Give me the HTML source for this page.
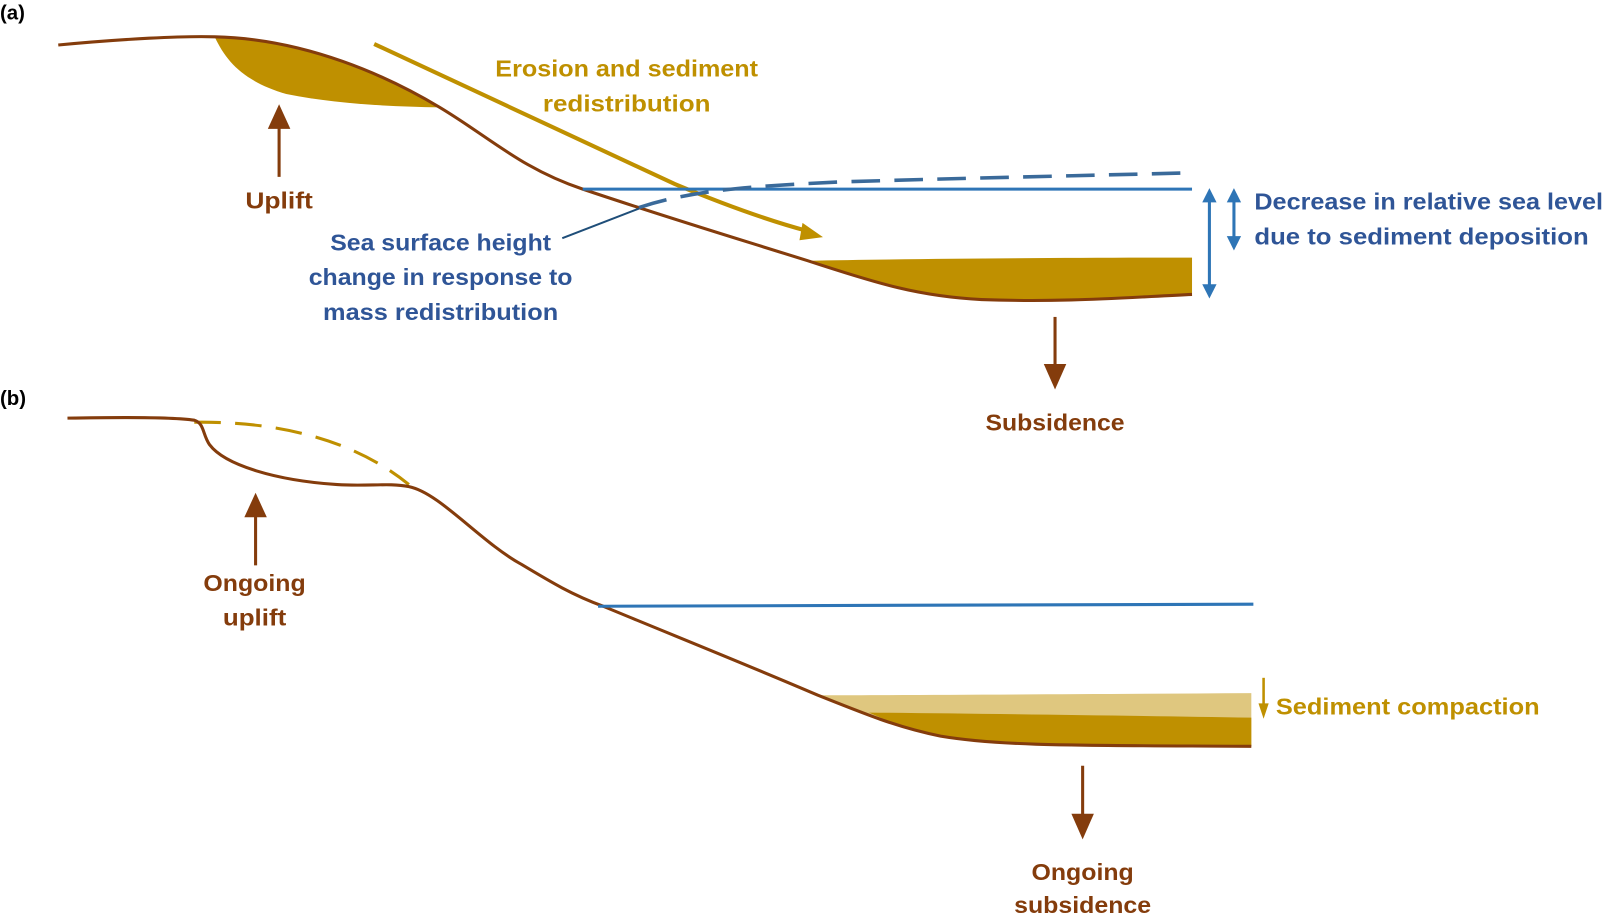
<!DOCTYPE html>
<html><head><style>html,body{margin:0;padding:0;background:#fff}svg{display:block}</style></head>
<body>
<svg width="1603" height="915" viewBox="0 0 1568 895" preserveAspectRatio="none" xmlns="http://www.w3.org/2000/svg" font-family="Liberation Sans, sans-serif" font-weight="bold">
<!-- (a) -->
<text x="0" y="19" font-size="20" fill="#000">(a)</text>
<path d="M210,36 C222,62 240,80 280,92 C330,102 380,104 430,105 C380,75 300,38 210,36 Z" fill="#BF9000"/>
<path d="M790,255 C860,278 900,290 960,293 C1040,296 1100,291 1166,288 L1166,252 C1050,252 900,253 790,255 Z" fill="#BF9000"/>
<path d="M57,44 C120,38 180,35 210,36 C300,38 380,75 430,105 C480,135 510,165 570,185 C650,212 720,233 790,255 C860,278 900,290 960,293 C1040,296 1100,291 1166,288" fill="none" stroke="#843C0C" stroke-width="3"/>
<path d="M366,43 L660,180 C720,205 760,218 790,226" fill="none" stroke="#BF9000" stroke-width="4"/>
<polygon points="805,232 785,218 782,235" fill="#BF9000"/>
<line x1="570" y1="185" x2="1166" y2="185" stroke="#2E75B6" stroke-width="3"/>
<path d="M625,203 C680,185 740,182 820,178 C950,174 1050,172 1166,169" fill="none" stroke="#3A6A9A" stroke-width="3.5" stroke-dasharray="28,14"/>
<line x1="550" y1="233" x2="625" y2="204" stroke="#1F4E79" stroke-width="2"/>
<line x1="1183" y1="195" x2="1183" y2="281" stroke="#2E75B6" stroke-width="3"/>
<polygon points="1183,184 1176,198 1190,198" fill="#2E75B6"/><polygon points="1183,292 1176,278 1190,278" fill="#2E75B6"/>
<line x1="1207" y1="195" x2="1207" y2="234" stroke="#2E75B6" stroke-width="3"/>
<polygon points="1207,184 1200,198 1214,198" fill="#2E75B6"/><polygon points="1207,245 1200,231 1214,231" fill="#2E75B6"/>
<line x1="273" y1="120" x2="273" y2="173" stroke="#843C0C" stroke-width="3"/>
<polygon points="273,102 262,126 284,126" fill="#843C0C"/>
<line x1="1032" y1="310" x2="1032" y2="360" stroke="#843C0C" stroke-width="3"/>
<polygon points="1032,381 1021,356 1043,356" fill="#843C0C"/>
<g font-size="23">
<text x="613" y="75" text-anchor="middle" fill="#BF9000" textLength="257" lengthAdjust="spacingAndGlyphs">Erosion and sediment</text>
<text x="613" y="109" text-anchor="middle" fill="#BF9000" textLength="164" lengthAdjust="spacingAndGlyphs">redistribution</text>
<text x="273" y="204" text-anchor="middle" fill="#843C0C" textLength="66" lengthAdjust="spacingAndGlyphs">Uplift</text>
<text x="431" y="245" text-anchor="middle" fill="#2F5597" textLength="216" lengthAdjust="spacingAndGlyphs">Sea surface height</text>
<text x="431" y="279" text-anchor="middle" fill="#2F5597" textLength="258" lengthAdjust="spacingAndGlyphs">change in response to</text>
<text x="431" y="313" text-anchor="middle" fill="#2F5597" textLength="230" lengthAdjust="spacingAndGlyphs">mass redistribution</text>
<text x="1227" y="205" fill="#2F5597" textLength="341" lengthAdjust="spacingAndGlyphs">Decrease in relative sea level</text>
<text x="1227" y="239" fill="#2F5597" textLength="327" lengthAdjust="spacingAndGlyphs">due to sediment deposition</text>
<text x="1032" y="421" text-anchor="middle" fill="#843C0C" textLength="136" lengthAdjust="spacingAndGlyphs">Subsidence</text>
</g>
<!-- (b) -->
<text x="0" y="396" font-size="20" fill="#000">(b)</text>
<path d="M800,680 C850,700 880,712 920,720 C980,730 1050,729 1224,730 L1224,678 C1050,679 900,680 800,680 Z" fill="#DFC77F"/>
<path d="M850,697 C950,698 1100,700 1224,702 L1224,730 C1050,729 980,730 920,720 C890,714 870,706 850,697 Z" fill="#BF9000"/>
<path d="M190,413 C260,412 340,425 400,474" fill="none" stroke="#BF9000" stroke-width="3" stroke-dasharray="26,14"/>
<path d="M66,409 C120,408 170,408 190,411 C200,414 198,425 205,435 C220,455 270,470 330,474 C360,476 380,472 400,476 C430,482 470,530 510,552 C540,570 560,582 590,593 C660,622 730,650 800,680 C850,700 880,712 920,720 C980,730 1050,729 1224,730" fill="none" stroke="#843C0C" stroke-width="3"/>
<line x1="585" y1="593" x2="1226" y2="591" stroke="#2E75B6" stroke-width="3"/>
<line x1="1236" y1="663" x2="1236" y2="690" stroke="#BF9000" stroke-width="2.5"/>
<polygon points="1236,703 1231,688 1241,688" fill="#BF9000"/>
<line x1="250" y1="500" x2="250" y2="553" stroke="#843C0C" stroke-width="3"/>
<polygon points="250,482 239,506 261,506" fill="#843C0C"/>
<line x1="1059" y1="749" x2="1059" y2="800" stroke="#843C0C" stroke-width="3"/>
<polygon points="1059,821 1048,796 1070,796" fill="#843C0C"/>
<g font-size="23">
<text x="249" y="578" text-anchor="middle" fill="#843C0C" textLength="100" lengthAdjust="spacingAndGlyphs">Ongoing</text>
<text x="249" y="612" text-anchor="middle" fill="#843C0C" textLength="62" lengthAdjust="spacingAndGlyphs">uplift</text>
<text x="1248" y="699" fill="#BF9000" textLength="258" lengthAdjust="spacingAndGlyphs">Sediment compaction</text>
<text x="1059" y="861" text-anchor="middle" fill="#843C0C" textLength="100" lengthAdjust="spacingAndGlyphs">Ongoing</text>
<text x="1059" y="893" text-anchor="middle" fill="#843C0C" textLength="134" lengthAdjust="spacingAndGlyphs">subsidence</text>
</g>
</svg>
</body></html>
